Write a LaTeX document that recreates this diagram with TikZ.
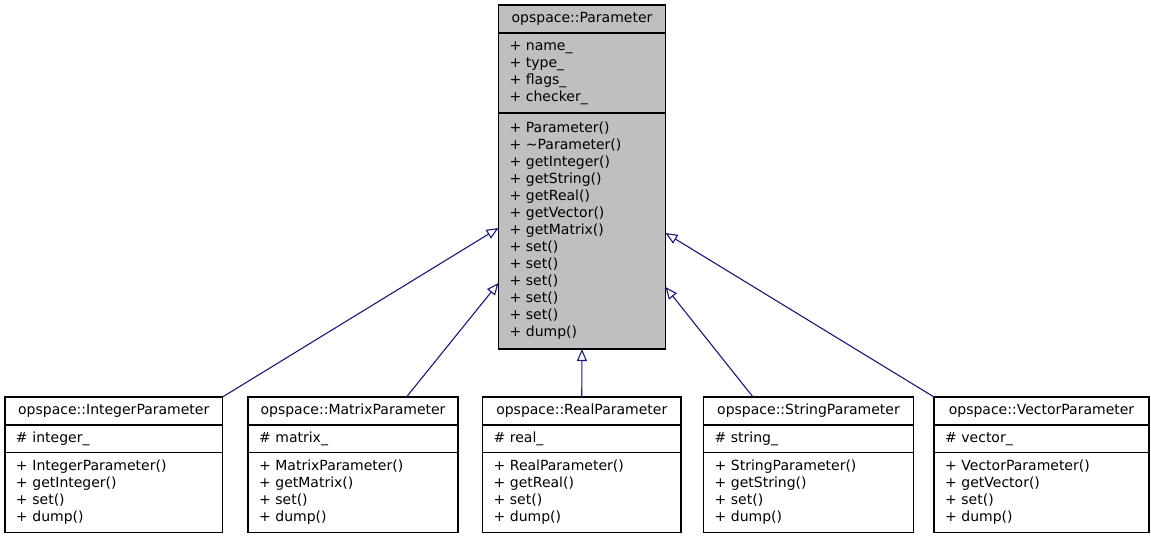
\documentclass[tikz,border=0pt]{standalone}
\usepackage{fontspec}
\setmainfont{DejaVu Sans}
\usetikzlibrary{positioning,arrows.meta}
\definecolor{edgeblue}{RGB}{25,25,112}

\begin{document}
\begin{tikzpicture}[x=1pt,y=-1pt,
    box/.style={draw, line width=1.3pt, fill=white, inner xsep=11pt, inner ysep=0pt, outer sep=0pt,
      font=\fontsize{14}{17}\selectfont},
    head/.style={box, align=center, minimum height=28pt, anchor=north west},
    part/.style={box, align=left},
    inherit/.style={edgeblue, line width=1.1pt, {Triangle[open,length=12pt,width=10pt]}-}]
    \useasboundingbox (0,0) rectangle (1151,538);

    % Clase base
    \node[head, fill=black!25, text width=145pt] (param) at (498.5,5) {opspace::Parameter};
    \node[part, fill=black!25, text width=145pt, minimum height=80pt, below=0pt of param] (param-a)
        {+ name\_\\+ type\_\\+ flags\_\\+ checker\_};
    \node[part, fill=black!25, text width=145pt, minimum height=236pt, below=0pt of param-a] (param-m)
        {+ Parameter()\\+ \textasciitilde Parameter()\\+ getInteger()\\+ getString()\\+ getReal()\\%
         + getVector()\\+ getMatrix()\\+ set()\\+ set()\\+ set()\\+ set()\\+ set()\\+ dump()};

    % Clases derivadas
    \node[head, text width=195.5pt] (intpar) at (5,397) {opspace::IntegerParameter};
    \node[part, text width=195.5pt, minimum height=27.5pt, below=0pt of intpar] (intpar-a) {\# integer\_};
    \node[part, text width=195.5pt, minimum height=80pt, below=0pt of intpar-a] (intpar-m)
        {+ IntegerParameter()\\+ getInteger()\\+ set()\\+ dump()};

    \node[head, text width=188pt] (matpar) at (248,397) {opspace::MatrixParameter};
    \node[part, text width=188pt, minimum height=27.5pt, below=0pt of matpar] (matpar-a) {\# matrix\_};
    \node[part, text width=188pt, minimum height=80pt, below=0pt of matpar-a] (matpar-m)
        {+ MatrixParameter()\\+ getMatrix()\\+ set()\\+ dump()};

    \node[head, text width=176.5pt] (realpar) at (482.5,397) {opspace::RealParameter};
    \node[part, text width=176.5pt, minimum height=27.5pt, below=0pt of realpar] (realpar-a) {\# real\_};
    \node[part, text width=176.5pt, minimum height=80pt, below=0pt of realpar-a] (realpar-m)
        {+ RealParameter()\\+ getReal()\\+ set()\\+ dump()};

    \node[head, text width=188pt] (strpar) at (703.5,397) {opspace::StringParameter};
    \node[part, text width=188pt, minimum height=27.5pt, below=0pt of strpar] (strpar-a) {\# string\_};
    \node[part, text width=188pt, minimum height=80pt, below=0pt of strpar-a] (strpar-m)
        {+ StringParameter()\\+ getString()\\+ set()\\+ dump()};

    \node[head, text width=193pt] (vecpar) at (934,397) {opspace::VectorParameter};
    \node[part, text width=193pt, minimum height=27.5pt, below=0pt of vecpar] (vecpar-a) {\# vector\_};
    \node[part, text width=193pt, minimum height=80pt, below=0pt of vecpar-a] (vecpar-m)
        {+ VectorParameter()\\+ getVector()\\+ set()\\+ dump()};

    % Herencia
    \draw[inherit] ([yshift=3pt]param-m.west) -- (intpar.north east);
    \draw[inherit] ([yshift=-52pt]param-m.west) -- ([xshift=53.5pt]matpar.north);
    \draw[inherit] (param-m.south) -- (realpar.north);
    \draw[inherit] ([yshift=-56pt]param-m.east) -- ([xshift=-55.5pt]strpar.north);
    \draw[inherit] ([yshift=-2pt]param-m.east) -- (vecpar.north west);
\end{tikzpicture}
\end{document}
